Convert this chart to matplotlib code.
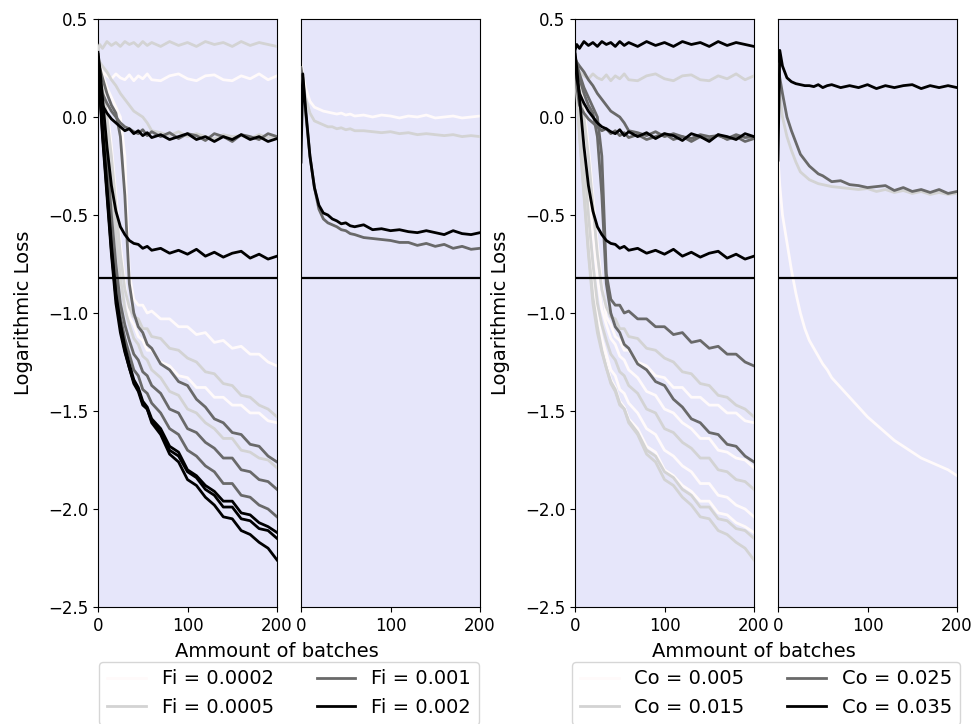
import matplotlib.pyplot as plt
from matplotlib.lines import Line2D

OUT = "out.png"

# batch numbers at which the loss was sampled
BATCHES = [0, 2, 5, 10, 15, 20, 25, 30, 35, 40, 45, 50, 55, 60,
           70, 80, 90, 100, 110, 120, 130, 140, 150, 160, 170, 180, 190, 200]

FI_LABELS = ["Fi = 0.0002", "Fi = 0.0005", "Fi = 0.001", "Fi = 0.002"]
CO_LABELS = ["Co = 0.005", "Co = 0.015", "Co = 0.025", "Co = 0.035"]
SHADES = ["snow", "lightgray", "dimgray", "black"]

# runs shown in the wide panels (one list per run)
run_a = [0.34, 0.37, 0.35, 0.385, 0.365, 0.38, 0.36, 0.385, 0.37, 0.38, 0.36, 0.385, 0.365, 0.38,
         0.36, 0.385, 0.365, 0.38, 0.36, 0.385, 0.37, 0.38, 0.36, 0.385, 0.365, 0.38, 0.37, 0.36]
run_b = [0.3, 0.26, 0.23, 0.21, 0.195, 0.22, 0.2, 0.19, 0.215, 0.185, 0.21, 0.195, 0.22, 0.19,
         0.185, 0.21, 0.22, 0.195, 0.185, 0.21, 0.215, 0.19, 0.185, 0.21, 0.195, 0.22, 0.19, 0.21]
run_c = [0.3, 0.28, 0.26, 0.23, 0.19, 0.16, 0.12, 0.09, 0.06, 0.03, 0.015, 0.0, -0.03, -0.07,
         -0.08, -0.095, -0.075, -0.1, -0.085, -0.1, -0.11, -0.09, -0.1, -0.095, -0.11, -0.09, -0.105, -0.1]
run_d = [0.3, 0.2, 0.12, 0.07, 0.03, 0.0, -0.03, -0.05, -0.06, -0.075, -0.085, -0.065, -0.095, -0.075,
         -0.1, -0.08, -0.11, -0.085, -0.095, -0.12, -0.085, -0.1, -0.125, -0.09, -0.1, -0.115, -0.085, -0.1]
run_e = [0.32, 0.15, 0.06, 0.02, -0.01, -0.03, -0.05, -0.07, -0.06, -0.085, -0.07, -0.095, -0.08, -0.105,
         -0.09, -0.115, -0.1, -0.085, -0.115, -0.1, -0.125, -0.1, -0.115, -0.09, -0.115, -0.1, -0.125, -0.11]
run_f = [0.33, 0.25, 0.1, -0.15, -0.35, -0.48, -0.56, -0.6, -0.63, -0.645, -0.65, -0.67, -0.66, -0.68,
         -0.67, -0.695, -0.68, -0.7, -0.675, -0.71, -0.69, -0.715, -0.695, -0.685, -0.72, -0.7, -0.725, -0.71]
run_g = [0.3, 0.27, 0.22, 0.15, 0.1, 0.05, 0.0, -0.2, -0.8, -0.93, -0.96, -0.96, -1.0, -0.99,
         -1.03, -1.03, -1.07, -1.07, -1.11, -1.1, -1.15, -1.14, -1.18, -1.17, -1.21, -1.21, -1.25, -1.27]
run_h = [0.3, 0.25, 0.15, 0.0, -0.2, -0.45, -0.7, -0.88, -0.97, -1.02, -1.03, -1.08, -1.08, -1.12,
         -1.13, -1.18, -1.19, -1.23, -1.25, -1.3, -1.31, -1.36, -1.37, -1.42, -1.43, -1.47, -1.49, -1.53]
run_i = [0.3, 0.26, 0.18, 0.05, -0.15, -0.4, -0.65, -0.85, -1.02, -1.06, -1.12, -1.14, -1.19, -1.19,
         -1.25, -1.27, -1.32, -1.33, -1.38, -1.38, -1.43, -1.43, -1.47, -1.47, -1.51, -1.51, -1.55, -1.56]
run_j = [0.3, 0.25, 0.2, 0.12, 0.06, 0.02, -0.1, -0.4, -0.85, -1.0, -1.07, -1.1, -1.16, -1.18,
         -1.26, -1.29, -1.35, -1.37, -1.44, -1.48, -1.54, -1.56, -1.61, -1.62, -1.67, -1.68, -1.73, -1.76]
run_k = [0.3, 0.22, 0.1, -0.1, -0.35, -0.6, -0.82, -0.98, -1.06, -1.13, -1.16, -1.22, -1.24, -1.29,
         -1.33, -1.4, -1.42, -1.49, -1.51, -1.56, -1.59, -1.64, -1.64, -1.7, -1.71, -1.74, -1.75, -1.79]
run_l = [0.3, 0.2, 0.05, -0.2, -0.5, -0.75, -0.95, -1.06, -1.14, -1.21, -1.24, -1.3, -1.32, -1.37,
         -1.41, -1.49, -1.51, -1.59, -1.61, -1.66, -1.69, -1.74, -1.74, -1.8, -1.81, -1.85, -1.86, -1.9]
run_m = [0.3, 0.18, 0.0, -0.3, -0.6, -0.85, -1.02, -1.13, -1.21, -1.29, -1.32, -1.39, -1.41, -1.46,
         -1.51, -1.59, -1.62, -1.7, -1.73, -1.78, -1.81, -1.87, -1.87, -1.93, -1.94, -1.98, -2.0, -2.04]
run_n = [0.3, 0.15, -0.05, -0.35, -0.65, -0.9, -1.05, -1.17, -1.26, -1.34, -1.38, -1.45, -1.48, -1.54,
         -1.59, -1.68, -1.71, -1.8, -1.83, -1.88, -1.91, -1.96, -1.96, -2.02, -2.03, -2.07, -2.09, -2.12]
run_o = [0.3, 0.14, -0.08, -0.38, -0.68, -0.92, -1.07, -1.19, -1.28, -1.36, -1.4, -1.47, -1.49, -1.55,
         -1.61, -1.7, -1.73, -1.81, -1.84, -1.9, -1.93, -1.99, -1.99, -2.05, -2.06, -2.1, -2.11, -2.15]
run_p = [0.3, 0.12, -0.1, -0.4, -0.7, -0.95, -1.1, -1.2, -1.28, -1.35, -1.39, -1.46, -1.49, -1.56,
         -1.62, -1.72, -1.76, -1.85, -1.88, -1.94, -1.98, -2.04, -2.05, -2.11, -2.13, -2.17, -2.2, -2.26]

RUNS = [run_a, run_b, run_c, run_d, run_e, run_f, run_g, run_h,
        run_i, run_j, run_k, run_l, run_m, run_n, run_o, run_p]
RUN_FI = [1, 0, 1, 2, 3, 3, 0, 1, 0, 2, 1, 2, 2, 3, 3, 3]
RUN_CO = [3, 1, 2, 3, 2, 3, 2, 1, 0, 2, 0, 1, 0, 0, 1, 1]

# runs shown in the narrow panels, one per Fi / Co value
fi_tail = [
    [0.28, 0.22, 0.15, 0.08, 0.05, 0.04, 0.03, 0.025, 0.02, 0.015, 0.02, 0.01, 0.015, 0.005,
     0.01, 0.0, 0.01, 0.005, -0.005, 0.005, 0.0, 0.01, -0.005, 0.0, 0.005, -0.005, 0.0, 0.005],
    [0.25, 0.18, 0.1, 0.02, -0.02, -0.03, -0.04, -0.05, -0.05, -0.06, -0.055, -0.065, -0.06, -0.07,
     -0.07, -0.075, -0.08, -0.075, -0.085, -0.08, -0.09, -0.085, -0.09, -0.095, -0.09, -0.1, -0.095, -0.1],
    [0.25, 0.2, 0.03, -0.2, -0.36, -0.47, -0.52, -0.54, -0.55, -0.56, -0.575, -0.58, -0.595, -0.6,
     -0.615, -0.62, -0.625, -0.63, -0.64, -0.64, -0.655, -0.645, -0.66, -0.65, -0.67, -0.66, -0.675, -0.67],
    [-0.23, 0.22, 0.05, -0.2, -0.36, -0.45, -0.49, -0.5, -0.52, -0.53, -0.545, -0.54, -0.555, -0.56,
     -0.55, -0.575, -0.57, -0.58, -0.575, -0.585, -0.59, -0.58, -0.59, -0.6, -0.58, -0.595, -0.6, -0.59],
]
co_tail = [
    [-0.2, -0.35, -0.5, -0.64, -0.78, -0.9, -1.0, -1.08, -1.14, -1.18, -1.22, -1.26, -1.29, -1.33,
     -1.38, -1.43, -1.48, -1.53, -1.57, -1.61, -1.65, -1.68, -1.71, -1.74, -1.76, -1.78, -1.8, -1.83],
    [0.2, 0.12, 0.0, -0.1, -0.17, -0.23, -0.28, -0.3, -0.32, -0.33, -0.34, -0.345, -0.35, -0.355,
     -0.36, -0.365, -0.37, -0.365, -0.38, -0.37, -0.385, -0.375, -0.39, -0.38, -0.395, -0.385, -0.395, -0.39],
    [0.27, 0.2, 0.12, 0.0, -0.07, -0.13, -0.19, -0.22, -0.25, -0.27, -0.29, -0.3, -0.315, -0.33,
     -0.325, -0.345, -0.35, -0.36, -0.355, -0.35, -0.375, -0.36, -0.38, -0.37, -0.385, -0.37, -0.39, -0.38],
    [-0.22, 0.34, 0.26, 0.2, 0.18, 0.17, 0.165, 0.16, 0.16, 0.155, 0.165, 0.15, 0.16, 0.165,
     0.15, 0.16, 0.15, 0.165, 0.145, 0.16, 0.15, 0.16, 0.165, 0.145, 0.16, 0.15, 0.16, 0.15],
]

CUT_LEVEL = -0.82
W, H = 976, 724


def style_axis(ax, with_y):
    ax.set_facecolor("lavender")
    ax.set_xlim(0, 200)
    ax.set_ylim(-2.5, 0.5)
    ax.set_xticks([0, 100, 200])
    ax.tick_params(labelsize=12)
    if with_y:
        ax.set_yticks([-2.5, -2.0, -1.5, -1.0, -0.5, 0.0, 0.5])
        ax.set_ylabel("Logarithmic Loss", fontsize=14, labelpad=11)
    else:
        ax.set_yticks([])
    ax.axhline(CUT_LEVEL, color="black", linewidth=1.6, zorder=10)


def draw_group(fig, x0, shade_idx, tails, labels):
    ax_main = fig.add_axes([x0 / W, 1 - 607 / H, 179 / W, 588 / H])
    ax_tail = fig.add_axes([(x0 + 203) / W, 1 - 607 / H, 179 / W, 588 / H])

    for run, idx in zip(RUNS, shade_idx):
        ax_main.plot(BATCHES, run, color=SHADES[idx], linewidth=2.0, zorder=2 + idx)
    for idx, run in enumerate(tails):
        ax_tail.plot(BATCHES, run, color=SHADES[idx], linewidth=2.0, zorder=2 + idx)

    style_axis(ax_main, True)
    style_axis(ax_tail, False)
    ax_main.set_xlabel("Ammount of batches", fontsize=14)
    ax_main.xaxis.set_label_coords(1.0, -0.06)

    handles = [Line2D([], [], color=c, linewidth=2.0) for c in SHADES]
    centre = (x0 + 191) / W
    fig.legend(handles, labels, ncol=2, fontsize=14, loc="upper center",
               bbox_to_anchor=(centre, 1 - 652 / H), columnspacing=2.2)


def main():
    fig = plt.figure(figsize=(W / 100, H / 100), dpi=100)
    draw_group(fig, 98, RUN_FI, fi_tail, FI_LABELS)
    draw_group(fig, 575, RUN_CO, co_tail, CO_LABELS)
    fig.savefig(OUT, dpi=100)
    plt.close(fig)


if __name__ == "__main__":
    main()
